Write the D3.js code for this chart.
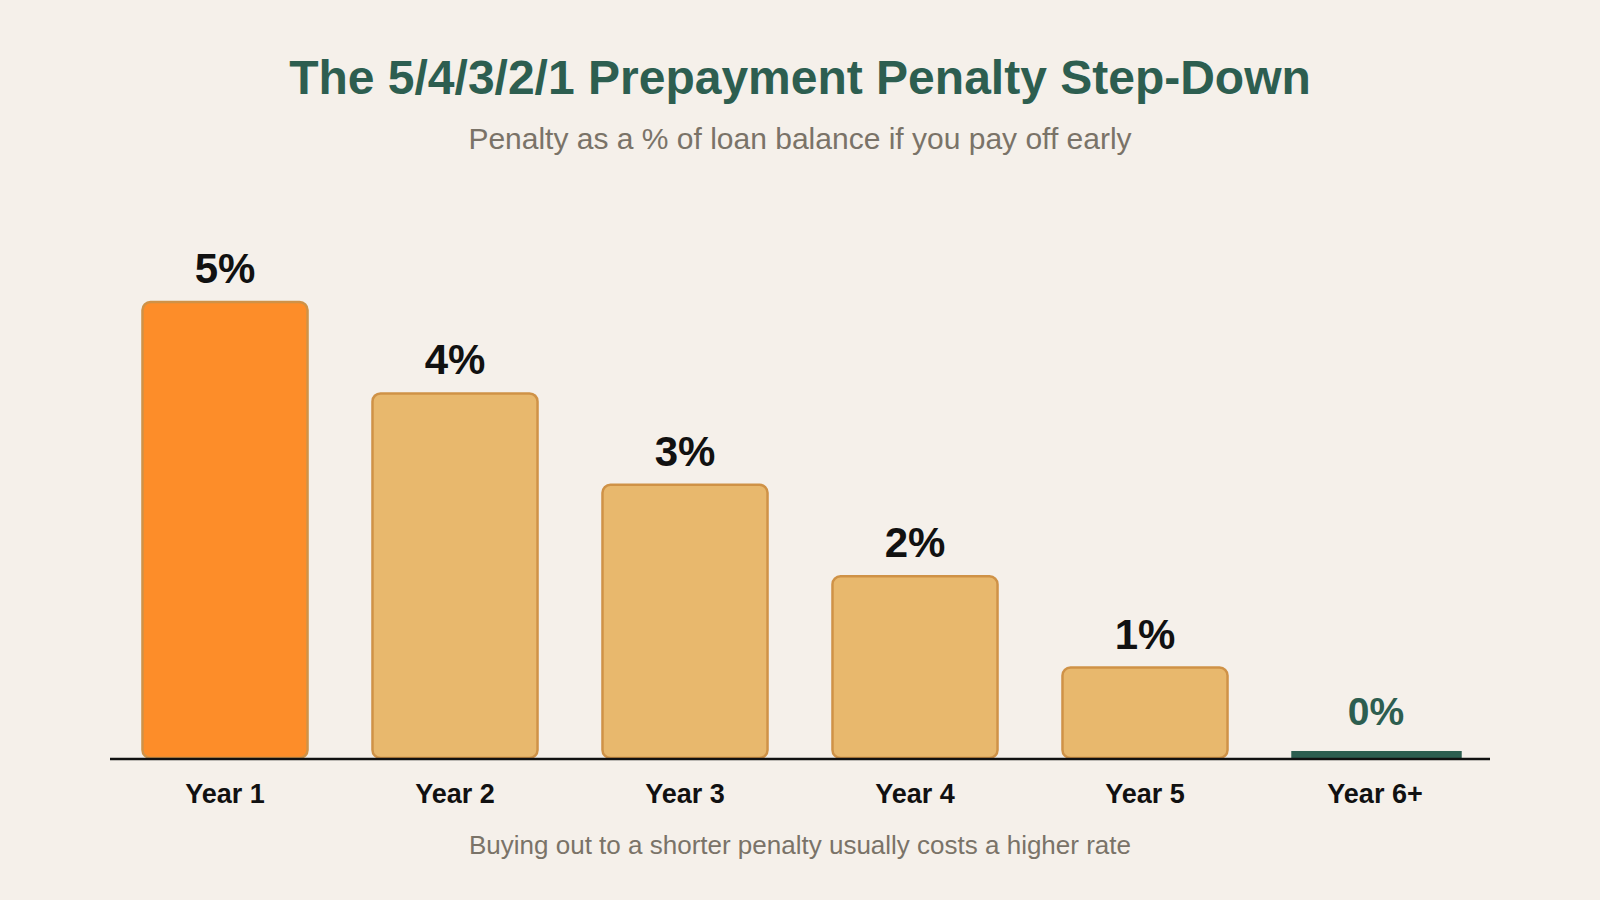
<!DOCTYPE html>
<html>
<head>
<meta charset="utf-8">
<script src="https://cdn.jsdelivr.net/npm/d3@7"></script>
<style>
  html, body { margin: 0; padding: 0; background: #f5f0ea; }
  svg { display: block; font-family: "Liberation Sans", Arial, sans-serif; }
</style>
</head>
<body>
<div id="chart"></div>
<script>
// chart values
var years = ["Year 1", "Year 2", "Year 3", "Year 4", "Year 5", "Year 6+"];
var penalty = [5, 4, 3, 2, 1, 0];
var labels = ["5%", "4%", "3%", "2%", "1%", "0%"];

var width = 1600, height = 900;
var margin = {left: 110, right: 110, bottom: 141};
var baseY = height - margin.bottom;

var svg = d3.select("#chart").append("svg")
  .attr("width", width)
  .attr("height", height);

svg.append("rect").attr("width", width).attr("height", height).attr("fill", "#f5f0ea");

svg.append("text")
  .attr("x", width / 2).attr("y", 94)
  .attr("text-anchor", "middle")
  .attr("font-size", 48).attr("font-weight", "bold")
  .attr("fill", "#2d5e50")
  .text("The 5/4/3/2/1 Prepayment Penalty Step-Down");

svg.append("text")
  .attr("x", width / 2).attr("y", 149)
  .attr("text-anchor", "middle")
  .attr("font-size", 30)
  .attr("fill", "#7a7368")
  .text("Penalty as a % of loan balance if you pay off early");

var x = d3.scaleBand()
  .domain(years)
  .range([margin.left, width - margin.right])
  .paddingInner(0.272)
  .paddingOuter(0.136);

var y = d3.scaleLinear()
  .domain([0, 5])
  .range([baseY, 302]);

var g = svg.append("g");

// bars with a value > 0
years.forEach(function(yr, i) {
  var v = penalty[i];
  if (v > 0) {
    g.append("rect")
      .attr("x", x(yr) + 1.2)
      .attr("y", y(v))
      .attr("width", x.bandwidth() - 2.4)
      .attr("height", baseY - y(v) - 1)
      .attr("rx", 8).attr("ry", 8)
      .attr("fill", i === 0 ? "#fd8d29" : "#e8b86d")
      .attr("stroke", "#cf9247")
      .attr("stroke-width", 2.5);
    g.append("text")
      .attr("x", x(yr) + x.bandwidth() / 2)
      .attr("y", y(v) - 19)
      .attr("text-anchor", "middle")
      .attr("font-size", 42).attr("font-weight", "bold")
      .attr("fill", "#111")
      .text(labels[i]);
  } else {
    // zero year gets a thin marker bar
    g.append("rect")
      .attr("x", x(yr))
      .attr("y", baseY - 8)
      .attr("width", x.bandwidth() + 3)
      .attr("height", 8)
      .attr("fill", "#2d5e50");
    g.append("text")
      .attr("x", x(yr) + x.bandwidth() / 2 + 1)
      .attr("y", baseY - 34)
      .attr("text-anchor", "middle")
      .attr("font-size", 39).attr("font-weight", "bold")
      .attr("fill", "#2d5e50")
      .text(labels[i]);
  }
});

var axis = svg.append("g")
  .attr("transform", "translate(0," + baseY + ")")
  .call(d3.axisBottom(x).tickSize(0).tickPadding(18));
axis.select(".domain")
  .attr("d", "M" + margin.left + ",0H" + (width - margin.right))
  .attr("stroke", "#111").attr("stroke-width", 2.5);
axis.selectAll("text")
  .attr("font-family", "Liberation Sans, Arial, sans-serif")
  .attr("font-size", 27).attr("font-weight", "bold")
  .attr("fill", "#111")
  .attr("dy", "0")
  .attr("y", 44);

svg.append("text")
  .attr("x", width / 2).attr("y", 854)
  .attr("text-anchor", "middle")
  .attr("font-size", 26)
  .attr("fill", "#7a7368")
  .text("Buying out to a shorter penalty usually costs a higher rate");
</script>
</body>
</html>
